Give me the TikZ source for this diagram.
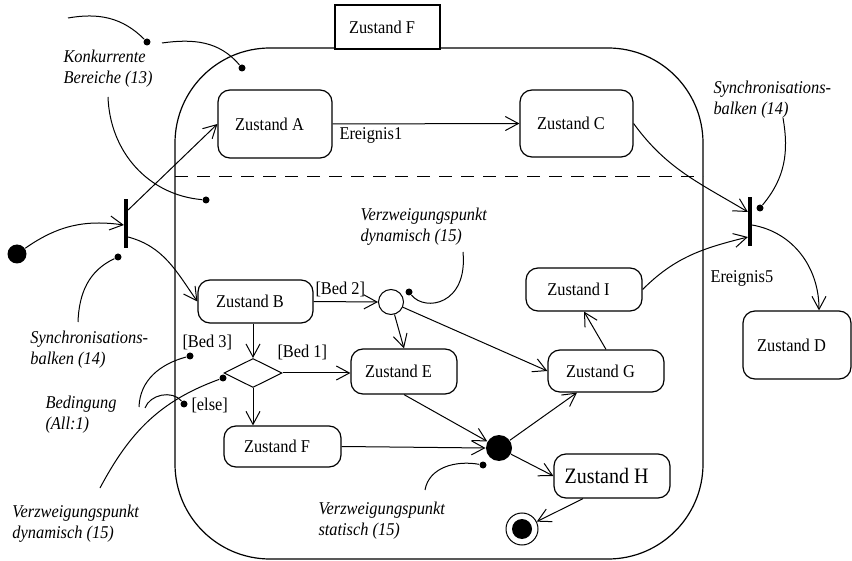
\documentclass[tikz,border=0pt]{standalone}
\usepackage{fontspec}
\setmainfont{Liberation Serif}[FakeStretch=0.91]
\usetikzlibrary{arrows.meta,shapes.geometric}

\begin{document}
\begin{tikzpicture}[x=1pt,y=-1pt,
  line width=1pt,
  >={Straight Barb[length=13pt,width=14pt]},
  txt/.style={font=\fontsize{18}{21}\selectfont},
  state/.style={txt,draw,rounded corners=12pt,line width=1.2pt,inner sep=0pt,
    execute at end node=\kern11pt},
  lbl/.style={txt,inner sep=0pt,anchor=base west},
  note/.style={font=\fontsize{18}{21}\selectfont\itshape,align=left,inner sep=0pt,anchor=north west},
  pin/.style={circle,fill=black,inner sep=0pt,minimum size=7pt},
  syncbar/.style={fill=black,inner sep=0pt,minimum width=3.2pt,minimum height=49pt},
]
\useasboundingbox (0,0) rectangle (852,561);

% composite state F with its two concurrent regions
\node[draw,line width=1.2pt,rounded corners=95pt,minimum width=528pt,minimum height=511pt] (zf) at (439,303.5) {};
\node[txt,draw,line width=1.2pt,fill=white,minimum width=105pt,minimum height=44pt,inner sep=0pt,
  execute at end node=\kern11pt] (tab) at (387.5,27) {Zustand F};
\draw[dash pattern=on 13pt off 9pt] (175,177) -- (703,177);

% states
\node[state,minimum width=114pt,minimum height=68pt] (A) at (275,124) {Zustand A};
\node[state,minimum width=113pt,minimum height=67pt] (C) at (576.5,123.5) {Zustand C};
\node[state,minimum width=115pt,minimum height=43pt] (B) at (255.5,301.5) {Zustand B};
\node[state,minimum width=106pt,minimum height=45pt] (E) at (404,371.5) {Zustand E};
\node[state,minimum width=116pt,minimum height=42pt] (G) at (606,371) {Zustand G};
\node[state,minimum width=116pt,minimum height=43pt] (I) at (584,289.5) {Zustand I};
\node[state,minimum width=116pt,minimum height=44pt,font=\fontsize{22}{26}\selectfont] (H) at (612,476) {Zustand H};
\node[state,minimum width=117pt,minimum height=41pt] (F) at (282.5,446.5) {Zustand F};
\node[state,minimum width=108pt,minimum height=68pt] (D) at (797,345) {Zustand D};

% pseudo states
\node[circle,fill=black,minimum size=19pt,inner sep=0pt] (init) at (17,254) {};
\node[syncbar] (barL) at (126,223.5) {};
\node[syncbar] (barR) at (750,222) {};
\node[circle,draw,fill=white,minimum size=25pt,inner sep=0pt] (circ) at (391,302) {};
\node[diamond,draw,aspect=2,minimum width=58pt,minimum height=29pt,inner sep=0pt] (dia) at (253,373) {};
\node[circle,fill=black,minimum size=26pt,inner sep=0pt] (bd) at (499,448) {};
\node[circle,draw,minimum size=32pt,inner sep=0pt] (fin) at (522,529) {};
\fill (fin.center) circle (10pt);

% transitions
\draw[->] (init) to[out=35,in=172] ([yshift=-1.5pt]barL.west);
\draw[->] ([yshift=13.5pt]barL.east) -- (A.west);
\draw[->] ([yshift=-13.5pt]barL.east) to[out=-15,in=125] (B.west);
\draw[->] (A.east) -- (C.west);
\draw[->] (C.east) to[out=-54,in=149] ([yshift=10pt]barR.west);
\draw[->] (I.east) to[out=45,in=194] ([yshift=-15pt]barR.west);
\draw[->] ([yshift=-3pt]barR.east) to[out=-10,in=90] ([xshift=22pt]D.north);
\draw[->] (B.east) -- (circ.west);
\draw[->] (circ) -- (E.north);
\draw[->] (circ) -- (G.west);
\draw[->] (dia.north |- B.south) -- (dia.north);
\draw[->] (dia.east) -- (dia.east -| E.west);
\draw[->] (dia.south) -- (dia.south |- F.north);
\draw[->] (E.south) -- (bd);
\draw[->] (F.east) -- (bd.west);
\draw[->] (bd) -- ([xshift=-29pt]G.south);
\draw[->] (bd) -- (H.west);
\draw[->] (G.north) -- (I.south);
\draw[->] ([xshift=-29pt]H.south) -- (fin);

% transition labels
\node[lbl] (e1) at (339,140) {Ereignis1};
\node[lbl] (e5) at (710,283) {Ereignis5};
\node[lbl] (b2) at (315,295) {[Bed 2]};
\node[lbl] (b1) at (277,358) {[Bed 1]};
\node[lbl] (b3) at (182,348) {[Bed 3]};
\node[lbl] (el) at (191,410) {[else]};

% annotations
\node[note] (nK) at (63,49.5) {Konkurrente\\Bereiche (13)};
\node[note] (nSL) at (30,331) {Synchronisations-\\balken (14)};
\node[note] (nBed) at (45,396) {Bedingung\\(All:1)};
\node[note] (nV1) at (12,505) {Verzweigungspunkt\\dynamisch (15)};
\node[note] (nV2) at (360,207.5) {Verzweigungspunkt\\dynamisch (15)};
\node[note] (nV3) at (318,502) {Verzweigungspunkt\\statisch (15)};
\node[note] (nSR) at (713,81) {Synchronisations-\\balken (14)};

\node[pin] (pK1) at (147,42) {};
\node[pin] (pK2) at (242,68) {};
\node[pin] (pK3) at (206,200) {};
\node[pin] (pSL) at (118,257) {};
\node[pin] (pB1) at (190,356) {};
\node[pin] (pB2) at (184,404) {};
\node[pin] (pV1) at (223,378) {};
\node[pin] (pV2) at (409,292) {};
\node[pin] (pV3) at (483,465) {};
\node[pin] (pSR) at (760,208) {};

\coordinate (cK1) at (68,18);
\coordinate (cK2) at (162,43);
\coordinate (cK3) at (108,97);
\coordinate (cSL) at (78,322);
\coordinate (cB1) at (139,407);
\coordinate (cB2) at (145,408);
\coordinate (cV1) at (100,488);
\coordinate (cV2) at (463,252);
\coordinate (cV3) at (425,490);
\coordinate (cSR) at (783,118);

\draw (cK1) to[out=10,in=135] (pK1);
\draw (cK2) to[out=8,in=130] (pK2);
\draw (cK3) to[out=-88,in=175] (pK3);
\draw (cSL) to[out=88,in=205] (pSL);
\draw (cB1) to[out=88,in=195] (pB1);
\draw (cB2) to[out=70,in=130] (pB2);
\draw (cV1) to[out=62,in=200] (pV1);
\draw (cV2) .. controls (468,305) and (425,312) .. (pV2);
\draw (cV3) to[out=80,in=170] (pV3);
\draw (cSR) to[out=-80,in=50] (pSR);
\end{tikzpicture}
\end{document}
